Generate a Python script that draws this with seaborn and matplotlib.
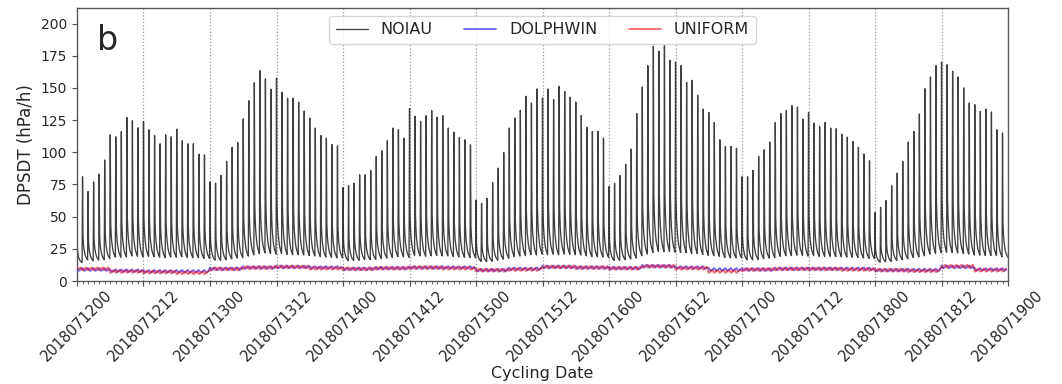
import numpy as np
import pandas as pd
import matplotlib
matplotlib.use("Agg")
import matplotlib.pyplot as plt
import seaborn as sns

# ---------------- data ----------------
# hourly cycles: peak DPSDT of each 1-h NOIAU forecast (hPa/h)
noiau_peaks_0712 = [49, 81, 69.5, 77, 83, 94, 113.6, 112, 116, 127, 124.5, 119,
                    124, 117.5, 113, 106.6, 113.6, 112, 118, 109, 106.6, 106.6, 98.6, 98]
noiau_peaks_0713 = [77, 76, 82, 93, 104, 107.6, 126, 140, 154, 163.4, 157, 149,
                    157.7, 146.6, 142, 142, 139, 132, 126.6, 118.8, 113, 111, 106, 105]
noiau_peaks_0714 = [72.6, 74.2, 76, 82.5, 82.5, 85.9, 96.8, 101.2, 109, 118.8, 117.5, 111,
                    133.9, 128, 124, 128.4, 132.3, 127.4, 128.4, 118.8, 115.7, 111.5, 109.7, 105.8]
noiau_peaks_0715 = [63, 60.4, 64.3, 76.5, 87.7, 99.9, 118.8, 126.6, 132.6, 143.5, 138.3, 149.2,
                    142.2, 149.2, 140.9, 151.2, 147.3, 142.8, 139, 128.7, 119.3, 116.2, 116.2, 111]
noiau_peaks_0716 = [73.4, 76, 82, 90.8, 102.5, 130, 150.7, 167.3, 182.4, 178.5, 182.9, 171.5,
                    170, 167.3, 154.3, 155.9, 144.2, 133.6, 131, 123.2, 109.7, 104.5, 104.5, 103.2]
noiau_peaks_0717 = [81, 81, 86, 96.8, 102, 108, 123, 130, 132.3, 136.2, 135.1, 125.8,
                    131, 122.7, 120, 123.2, 118.8, 118.3, 114.1, 111.8, 108.4, 103.8, 98.8, 93.4]
noiau_peaks_0718 = [53.2, 57.3, 62.5, 74, 83.8, 92.9, 108, 116.2, 129.7, 149.4, 158.5, 167.3,
                    170, 168, 163, 158.5, 150, 138.3, 137, 131.8, 133.6, 131.3, 117.5, 115]

# shape of the decay inside one hour (5-min steps), fraction of peak above floor
noiau_decay = [1.0, 0.33, 0.24, 0.19, 0.16, 0.135, 0.115, 0.10, 0.09, 0.08, 0.072, 0.065]
noiau_floor = 12.0

# 6-hourly levels of the IAU experiments (hPa/h)
dolphwin_levels = [9.0, 8.0, 7.5, 7.5,
                   9.5, 10.5, 11.0, 10.5,
                   9.5, 10.0, 10.5, 10.5,
                   8.5, 9.5, 11.0, 10.5,
                   10.0, 11.5, 10.5, 9.0,
                   9.0, 9.5, 9.5, 9.5,
                   8.5, 8.5, 11.0, 9.0]
uniform_levels = [9.5, 7.5, 7.0, 6.5,
                  9.5, 10.5, 11.0, 10.0,
                  9.5, 10.0, 10.5, 10.0,
                  8.5, 9.0, 11.0, 10.5,
                  10.0, 11.5, 10.0, 7.5,
                  9.0, 9.5, 9.5, 9.0,
                  8.5, 8.0, 11.5, 8.5]
# small hourly saw-tooth of the IAU runs (20-min steps)
dolphwin_wiggle = [1.1, -1.1, 0.0]
uniform_wiggle = [-1.2, 0.1, 1.2]

tick_labels = ["2018071200", "2018071212", "2018071300", "2018071312",
               "2018071400", "2018071412", "2018071500", "2018071512",
               "2018071600", "2018071612", "2018071700", "2018071712",
               "2018071800", "2018071812", "2018071900"]

# ---------------- build tables ----------------
noiau_peaks = (noiau_peaks_0712 + noiau_peaks_0713 + noiau_peaks_0714 + noiau_peaks_0715
               + noiau_peaks_0716 + noiau_peaks_0717 + noiau_peaks_0718)
rows = []
for h, p in enumerate(noiau_peaks):
    for k, f in enumerate(noiau_decay):
        rows.append((h + k / len(noiau_decay), noiau_floor + (p - noiau_floor) * f))
df_noiau = pd.DataFrame(rows, columns=["hour", "value"])


def iau_table(levels, wiggle):
    r = []
    for h in range(len(noiau_peaks)):
        lev = levels[h // 6]
        for k, off in enumerate(wiggle):
            r.append((h + k / len(wiggle), lev + off))
    return pd.DataFrame(r, columns=["hour", "value"])


df_dolph = iau_table(dolphwin_levels, dolphwin_wiggle)
df_unif = iau_table(uniform_levels, uniform_wiggle)

# ---------------- plot ----------------
sns.set_style("ticks")
plt.rcParams["font.family"] = ["DejaVu Sans"]

fig, ax = plt.subplots(figsize=(10.62, 3.84), dpi=100)
fig.subplots_adjust(left=0.0725, right=0.9492, top=0.979, bottom=0.268)

sns.lineplot(data=df_noiau, x="hour", y="value", color="black", alpha=0.75, lw=0.95,
             estimator=None, sort=False, label="NOIAU", ax=ax)
sns.lineplot(data=df_dolph, x="hour", y="value", color="blue", alpha=0.6, lw=1.3,
             estimator=None, sort=False, label="DOLPHWIN", ax=ax)
sns.lineplot(data=df_unif, x="hour", y="value", color="red", alpha=0.6, lw=1.3,
             estimator=None, sort=False, label="UNIFORM", ax=ax)

ax.set_xlim(0, 168)
ax.set_ylim(0, 212)
ax.set_yticks(np.arange(0, 201, 25))
ax.set_xticks(np.arange(0, 169, 12))
ax.set_xticklabels(tick_labels, rotation=45, fontsize=10.5)
ax.set_xticks(np.arange(0, 169, 1), minor=True)
ax.tick_params(axis="x", which="minor", length=2, width=0.6, color="0.3")
ax.tick_params(axis="both", which="major", length=3.5, width=0.8, color="0.3")
ax.tick_params(axis="x", which="major", pad=1.0)
ax.tick_params(axis="y", labelsize=10)
ax.xaxis.grid(True, which="major", linestyle=":", color="0.6", lw=0.9)
ax.yaxis.grid(False)
for s in ax.spines.values():
    s.set_visible(True)
    s.set_color("0.35")
    s.set_linewidth(1.0)

ax.set_xlabel("Cycling Date", fontsize=11.5)
ax.xaxis.set_label_coords(0.5, -0.31)
ax.set_ylabel("DPSDT (hPa/h)", fontsize=12)
ax.text(0.021, 0.94, "b", transform=ax.transAxes, fontsize=24, va="top", ha="left")

ax.legend(loc="upper center", ncol=3, fontsize=11.5, frameon=True)

fig.savefig("out.png", dpi=100)
